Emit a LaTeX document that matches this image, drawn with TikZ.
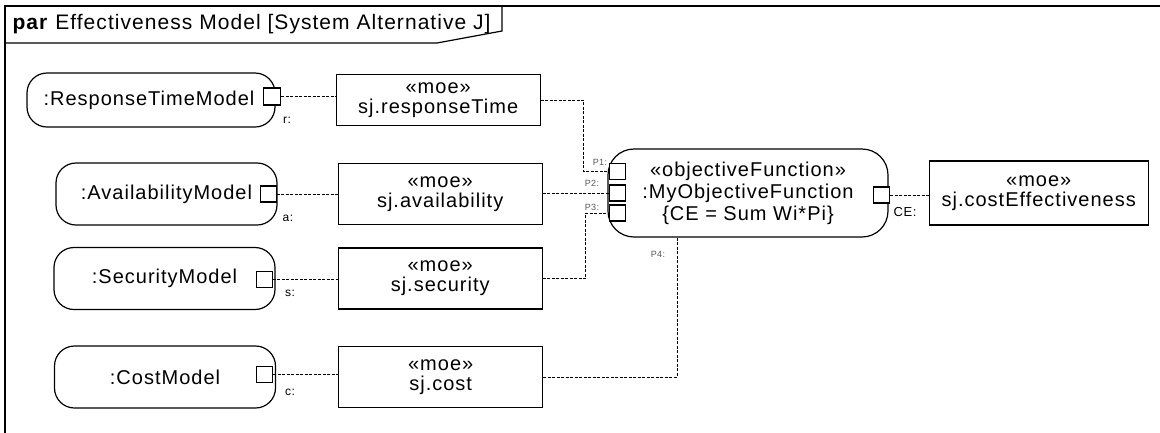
\documentclass[tikz,border=0pt]{standalone}
\usepackage{fontspec}
\setmainfont{Liberation Sans}[LetterSpace=5]
\usetikzlibrary{positioning,calc}

\begin{document}
\begin{tikzpicture}[x=1pt,y=-1pt,font=\fontsize{20}{20}\selectfont,line width=1.2pt,
  part/.style={draw,rounded corners=20pt,align=center,minimum width=221pt,minimum height=62pt,inner sep=2pt},
  moe/.style={draw,align=center,minimum width=204pt,minimum height=61pt,inner sep=2pt},
  port/.style={draw,fill=white,minimum size=16pt,inner sep=0pt},
  plbl/.style={font=\fontsize{12}{12}\selectfont,inner sep=0pt},
  pnum/.style={font=\fontsize{9}{9}\selectfont,text=black!65,inner sep=0pt},
  link/.style={line width=1pt,dash pattern=on 3pt off 1.5pt}]
  \useasboundingbox (0,0) rectangle (1160,432);
  \clip (0,0) rectangle (1160,432);
  % frame with its name tag
  \draw (5,6) rectangle (1200,470);
  \draw (5,43) -- (437,43) -- (502,31) -- (502,6);
  \node[anchor=west,inner sep=0pt,font=\fontsize{21}{21}\selectfont] (title) at (12,24) {\textbf{par} Effectiveness Model [System Alternative J]};
  % parts and their values
  \node[part,minimum width=248pt,minimum height=54pt] (rtm) at (151,100) {:ResponseTimeModel\hspace{4pt}};
  \node[moe,minimum height=51pt,right=60pt of rtm] (rt) {«moe»\\sj.responseTime};
  \node[part] (av) at (166.5,194) {:AvailabilityModel};
  \node[moe,right=60pt of av] (avm) {«moe»\\sj.availability};
  \node[part] (sec) at (164.5,278.5) {:SecurityModel};
  \node[moe,right=62pt of sec] (secm) {«moe»\\sj.security};
  \node[part] (cost) at (165,377) {:CostModel};
  \node[moe,right=62pt of cost] (costm) {«moe»\\sj.cost};
  \node[part,minimum width=280pt,minimum height=88pt,rounded corners=26pt,font=\fontsize{20}{22}\selectfont] (obj) at (748,193) {«objectiveFunction»\\:MyObjectiveFunction\\\{CE = Sum Wi*Pi\}};
  \node[moe,minimum width=219pt,minimum height=64pt,right=40pt of obj] (ce) {«moe»\\sj.costEffectiveness};
  % ports
  \node[port,minimum size=17pt] (rtmP) at ([xshift=-3.5pt,yshift=3.5pt]rtm.east) {};
  \node[port] (avP) at ([xshift=-9.5pt]av.east) {};
  \node[port] (secP) at ([xshift=-11.5pt,yshift=-1pt]sec.east) {};
  \node[port] (costP) at ([xshift=-11.5pt,yshift=2.5pt]cost.east) {};
  \node[port] (p1) at ([xshift=10pt,yshift=21.5pt]obj.west) {};
  \node[port] (p2) at ([xshift=10pt]obj.west) {};
  \node[port] (p3) at ([xshift=10pt,yshift=-20pt]obj.west) {};
  \coordinate (p4) at ([xshift=-71pt]obj.south);
  \node[port] (ceP) at ([xshift=-7pt,yshift=-2pt]obj.east) {};
  \node[plbl] (rl) at (287,120) {r:};
  \node[plbl] (al) at (288,218) {a:};
  \node[plbl] (sl) at (290,293) {s:};
  \node[plbl] (cl) at (290,392) {c:};
  \node[plbl,font=\fontsize{13}{13}\selectfont] (cel) at (905,212) {CE:};
  \node[pnum] (p1l) at (600,162) {P1:};
  \node[pnum] (p2l) at (592,183) {P2:};
  \node[pnum] (p3l) at (592,207) {P3:};
  \node[pnum] (p4l) at (658,254) {P4:};
  % bindings
  \draw[link] (rtmP.east) -- (rtmP.east -| rt.west); \draw[link] (rt.east) -- ++(43,0) |- (p1.west);
  \draw[link] (avP.east) -- (avP.east -| avm.west); \draw[link] (p2.west -| avm.east) -- (p2.west);
  \draw[link] (secP.east) -- (secP.east -| secm.west); \draw[link] (secm.east) -- ++(43,0) |- (p3.west);
  \draw[link] (costP.east) -- (costP.east -| costm.west); \draw[link] (costm.east) -| (p4);
  \draw[link] (ceP.east) -- (ceP.east -| ce.west);
\end{tikzpicture}
\end{document}
